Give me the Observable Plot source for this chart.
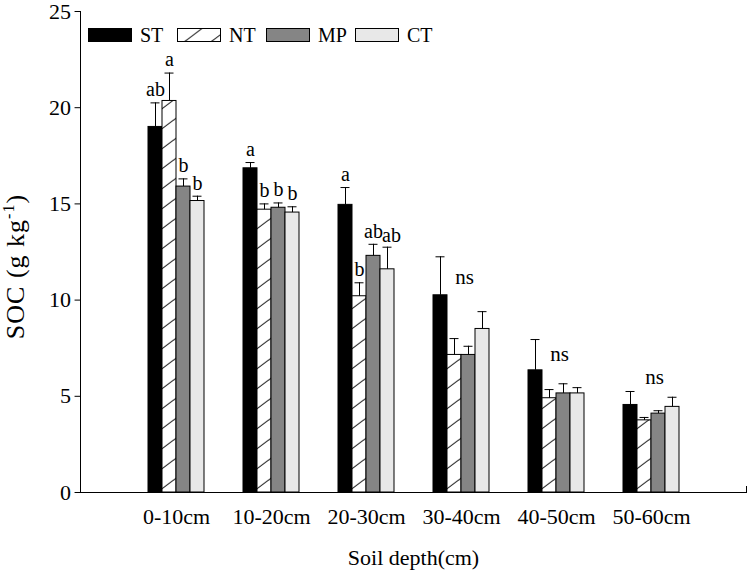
<!DOCTYPE html>
<html>
<head>
<meta charset="utf-8">
<script src="https://cdn.jsdelivr.net/npm/d3@7"></script>
<script src="https://cdn.jsdelivr.net/npm/@observablehq/plot@0.6"></script>
<style>
  html, body { margin: 0; padding: 0; background: #fff; }
  #chart { width: 751px; height: 574px; }
</style>
</head>
<body>
<svg width="0" height="0" style="position:absolute">
  <defs>
    <pattern id="hatch" patternUnits="userSpaceOnUse" width="26.667" height="20">
      <rect width="26.667" height="20" fill="#fff"></rect>
      <path d="M0,20L26.667,0M-5,3.75L5,-3.75M21.667,23.75L31.667,16.25" stroke="#000" stroke-width="1" fill="none"></path>
    </pattern>
  </defs>
</svg>
<div id="chart"></div>
<script>
const depths = ["0-10cm", "10-20cm", "20-30cm", "30-40cm", "40-50cm", "50-60cm"];
const series = ["ST", "NT", "MP", "CT"];
const seriesFills = ["#000000", "url(#hatch)", "#858585", "#e8e8e8"];

const ST = [19.0, 16.85, 14.95, 10.25, 6.35, 4.55];
const ST_err = [1.25, 0.3, 0.9, 2.0, 1.6, 0.7];
const NT = [20.35, 14.7, 10.2, 7.15, 4.9, 3.75];
const NT_err = [1.45, 0.3, 0.7, 0.85, 0.45, 0.15];
const MP = [15.9, 14.8, 12.3, 7.15, 5.15, 4.1];
const MP_err = [0.4, 0.25, 0.6, 0.45, 0.5, 0.15];
const CT = [15.15, 14.55, 11.6, 8.5, 5.15, 4.45];
const CT_err = [0.25, 0.3, 1.15, 0.9, 0.3, 0.5];

const ST_letters = ["ab", "a", "a", "", "", ""];
const NT_letters = ["a", "b", "b", "", "", ""];
const MP_letters = ["b", "b", "ab", "", "", ""];
const CT_letters = ["b", "b", "ab", "", "", ""];

const nsDepths = ["30-40cm", "40-50cm", "50-60cm"];
const nsLevels = [11.2, 7.2, 6.0];

const yTicks = [0, 5, 10, 15, 20, 25];

const values = {ST, NT, MP, CT};
const errs = {ST: ST_err, NT: NT_err, MP: MP_err, CT: CT_err};
const letters = {ST: ST_letters, NT: NT_letters, MP: MP_letters, CT: CT_letters};

const table = [];
depths.forEach((d, i) => {
  series.forEach(s => {
    table.push({depth: d, series: s, value: values[s][i], err: errs[s][i], top: values[s][i] + errs[s][i], letter: letters[s][i]});
  });
});
const nsTable = nsDepths.map((d, i) => ({depth: d, y: nsLevels[i], text: "ns"}));

// two-letter labels that sit next to another two-letter label are nudged apart
const labeled = table.filter(d => d.letter);
const crowded = d => d.letter.length > 1 && d.series === "CT";
const lettersMain = labeled.filter(d => !crowded(d));
const lettersNudged = labeled.filter(crowded);

const font = "'Liberation Serif', 'Times New Roman', serif";
const W = 751, H = 574, mL = 80, mR = 4, mT = 11, mB = 82;
const fxPadInner = 0.39, fxPadOuter = 0.698;

// the leftmost facet starts inside the frame; shift the y axis back to the frame's left edge
const fxProbe = d3.scaleBand(depths, [mL, W - mR]).paddingInner(fxPadInner).paddingOuter(fxPadOuter);
const axisShift = mL - fxProbe(depths[0]);

const chart = Plot.plot({
  width: W,
  height: H,
  marginLeft: mL,
  marginRight: mR,
  marginTop: mT,
  marginBottom: mB,
  style: {fontFamily: font, fontSize: "22px", background: "#fff", color: "#000"},
  fx: {domain: depths, paddingInner: fxPadInner, paddingOuter: fxPadOuter, label: null, axis: "bottom", tickSize: 0, tickPadding: 16},
  x: {domain: series, padding: 0, axis: null},
  y: {domain: [0, 25], label: null},
  color: {domain: series, range: seriesFills},
  marks: [
    Plot.axisY({ticks: yTicks, tickSize: 6, tickPadding: 4, dx: axisShift, label: null, fontSize: 22}),
    Plot.barY(table, {fx: "depth", x: "series", y: "value", fill: "series", stroke: "#000", strokeWidth: 1}),
    Plot.ruleX(table, {fx: "depth", x: "series", y1: "value", y2: "top", stroke: "#000", strokeWidth: 1}),
    Plot.tickY(table, {fx: "depth", x: "series", y: "top", stroke: "#000", strokeWidth: 1, insetLeft: 2.5, insetRight: 2.5}),
    Plot.text(lettersMain, {fx: "depth", x: "series", y: "top", text: "letter", dy: -13, fontSize: 20}),
    Plot.text(lettersNudged, {fx: "depth", x: "series", y: "top", text: "letter", dy: -12, dx: 4, fontSize: 20}),
    Plot.text(nsTable, {fx: "depth", y: "y", text: "text", dx: 3, fontSize: 21})
  ]
});

document.getElementById("chart").appendChild(chart);

// axis lines, labels and legend using the chart's scales
const svg = d3.select(chart);
const y = chart.scale("y");
const y0 = y.apply(0), yTop = y.apply(25);
const left = mL, right = W - mR;
const g = svg.append("g").attr("stroke", "#000").attr("stroke-width", 1).attr("fill", "none");
g.append("line").attr("x1", left + 0.5).attr("x2", left + 0.5).attr("y1", yTop).attr("y2", y0 + 0.5);
g.append("line").attr("x1", left).attr("x2", right).attr("y1", y0 + 0.5).attr("y2", y0 + 0.5);
g.append("line").attr("x1", right - 0.5).attr("x2", right - 0.5).attr("y1", y0 - 6).attr("y2", y0 + 0.5);

// y label with superscript
const yl = svg.append("text")
  .attr("transform", `translate(24,${(y0 + yTop) / 2 + 15}) rotate(-90)`)
  .attr("text-anchor", "middle")
  .attr("letter-spacing", 1)
  .attr("font-family", font).attr("font-size", 26).attr("fill", "#000");
yl.append("tspan").text("SOC (g kg");
yl.append("tspan").attr("font-size", 16).attr("dy", -10).text("-1");
yl.append("tspan").attr("dy", 10).text(")");

// x label
svg.append("text")
  .attr("x", (left + right) / 2).attr("y", 565)
  .attr("text-anchor", "middle")
  .attr("font-family", font).attr("font-size", 22).attr("fill", "#000")
  .text("Soil depth(cm)");

// legend
const lg = svg.append("g").attr("font-family", font).attr("font-size", 20).attr("text-anchor", "start");
series.forEach((s, i) => {
  const x0 = 88 + i * 89;
  lg.append("rect").attr("x", x0 + 0.5).attr("y", 28.5).attr("width", 43).attr("height", 13)
    .attr("fill", seriesFills[i]).attr("stroke", "#000").attr("stroke-width", 1);
  lg.append("text").attr("x", x0 + 52).attr("y", 42).attr("fill", "#000").text(s);
});
</script>
</body>
</html>
